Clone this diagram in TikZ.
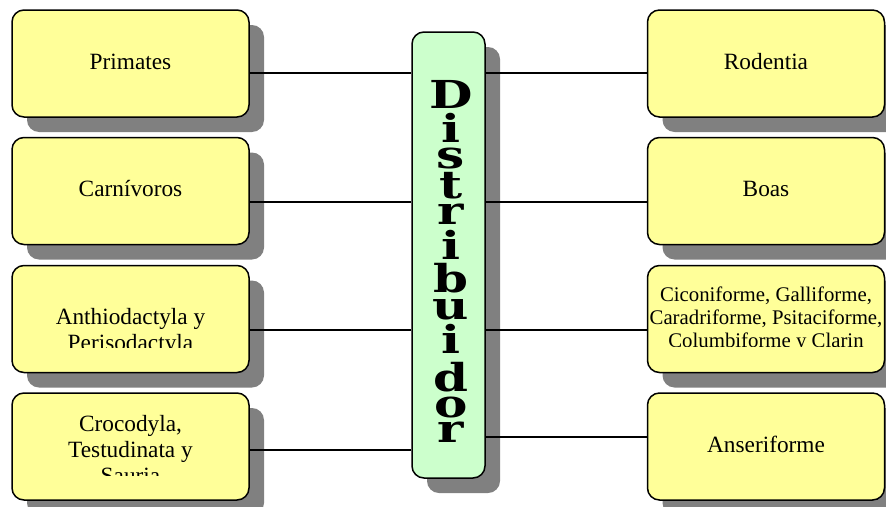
\documentclass[tikz,border=0pt]{standalone}
\usepackage{fontspec}
\setmainfont{Liberation Serif}
\newfontfamily\hubfont{DejaVu Serif Bold}[FakeStretch=1.3]
\usetikzlibrary{shadows}
\definecolor{cardyellow}{RGB}{255,255,153}
\definecolor{hubgreen}{RGB}{204,255,204}
\definecolor{shadegray}{RGB}{128,128,128}

\begin{document}
\begin{tikzpicture}[x=1pt, y=-1pt, line width=1.5pt,
        card/.style = {draw=black, fill=cardyellow, rounded corners=12pt, minimum width=237pt, minimum height=107pt, inner sep=0pt,
            font=\fontsize{23.3}{26}\selectfont, text height=17pt, text depth=6pt,
            general shadow={fill=shadegray, shadow xshift=15pt, shadow yshift=-15pt}},
        hub/.style = {draw=black, fill=hubgreen, rounded corners=12pt, minimum width=73pt, minimum height=446pt, inner sep=0pt,
            general shadow={fill=shadegray, shadow xshift=15pt, shadow yshift=-15pt}},
        cardtext/.style = {inner sep=0pt, font=\fontsize{23.3}{26}\selectfont},
        smalltext/.style = {inner sep=0pt, font=\fontsize{20.8}{22.7}\selectfont},
        letter/.style = {inner sep=0pt, font=\hubfont\fontsize{38.5}{40}\selectfont},
        link/.style = {draw=black, line width=1.5pt}]
    \useasboundingbox (0,0) rectangle (886,506);

    % left column
    \node[card] (primates) at (130.5,63.5) {Primates};
    \node[card] (carnivoros) at (130.5,191) {Carnívoros};
    \node[card] (anthio) at (130.5,319) {};
    \node[card] (crocodyla) at (130.5,446.5) {};

    % right column
    \node[card] (rodentia) at (766,63.5) {Rodentia};
    \node[card] (boas) at (766,191) {Boas};
    \node[card] (ciconi) at (766,319) {};
    \node[card] (anseri) at (766,446.5) {Anseriforme};

    % texts that run out of their box
    \begin{scope}
        \clip (anthio.north west) rectangle ([yshift=-28pt]anthio.east);
        \node[cardtext, anchor=base] (anthio-text) at ([yshift=-5pt]anthio.center)
            {\begin{tabular}[t]{@{}c@{}}Anthiodactyla y\\Perisodactyla\end{tabular}};
    \end{scope}
    \begin{scope}
        \clip (crocodyla.north west) rectangle ([yshift=-28.5pt]crocodyla.east);
        \node[cardtext, anchor=base] (crocodyla-text) at ([yshift=15.5pt]crocodyla.center)
            {\begin{tabular}[t]{@{}c@{}}Crocodyla,\\Testudinata y\\Sauria\end{tabular}};
    \end{scope}
    \begin{scope}
        \clip (ciconi.north west) rectangle ([yshift=-27.8pt]ciconi.east);
        \node[smalltext, anchor=base] (ciconi-text) at ([yshift=17.3pt]ciconi.center)
            {\begin{tabular}[t]{@{}c@{}}Ciconiforme, Galliforme,\\Caradriforme, Psitaciforme,\\Columbiforme y Clarin\end{tabular}};
    \end{scope}

    % distribuidor
    \node[hub] (distrib) at (448.5,255) {};
    \foreach \ch/\yc [count=\k] in {D/94.5, i/127.5, s/158.5, t/185.5, r/214, i/245, b/278.5, u/310, i/339, d/377.5, o/408, r/432}
        \node[letter] (dist-\k) at (451,\yc) {\ch};

    % connectors
    \draw[link] ([yshift=-9.5pt]primates.east) coordinate (l1) -- (l1 -| distrib.west);
    \draw[link] ([yshift=-11pt]carnivoros.east) coordinate (l2) -- (l2 -| distrib.west);
    \draw[link] ([yshift=-11pt]anthio.east) coordinate (l3) -- (l3 -| distrib.west);
    \draw[link] ([yshift=-3.5pt]crocodyla.east) coordinate (l4) -- (l4 -| distrib.west);
    \draw[link] ([yshift=-9.5pt]rodentia.west) coordinate (r1) -- (r1 -| distrib.east);
    \draw[link] ([yshift=-11pt]boas.west) coordinate (r2) -- (r2 -| distrib.east);
    \draw[link] ([yshift=-11pt]ciconi.west) coordinate (r3) -- (r3 -| distrib.east);
    \draw[link] ([yshift=9.5pt]anseri.west) coordinate (r4) -- (r4 -| distrib.east);
\end{tikzpicture}
\end{document}
